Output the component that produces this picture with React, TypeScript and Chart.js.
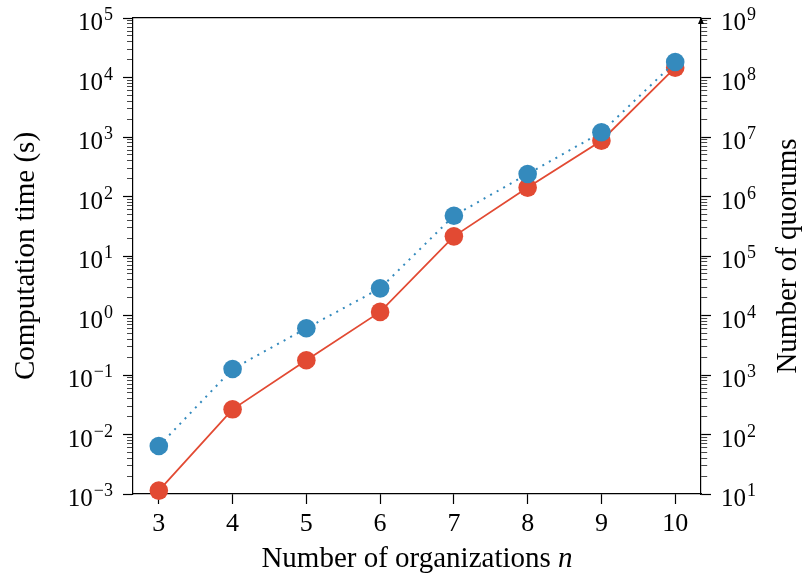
import React, { useEffect, useRef } from "react";
import { Chart, registerables } from "chart.js";

Chart.register(...registerables);

// ---- data ----
const organizations = [3, 4, 5, 6, 7, 8, 9, 10];
const computationTime = [0.00114, 0.0265, 0.177, 1.15, 21.4, 141, 867, 14600];
const quorumCount = [64, 1260, 6100, 28600, 475000, 2390000, 12000000, 182000000];
const xTickValues = [3, 4, 5, 6, 7, 8, 9, 10];
const timeExponents = [-3, -2, -1, 0, 1, 2, 3, 4, 5];
const quorumExponents = [1, 2, 3, 4, 5, 6, 7, 8, 9];

const xTitle = "Number of organizations ";
const xTitleItalic = "n";
const leftTitle = "Computation time (s)";
const rightTitle = "Number of quorums";

const RED = "#E24A33";
const BLUE = "#348ABD";
const FONT = "'Liberation Serif', 'Times New Roman', serif";
const TICK_SIZE = 25;
const EXP_SIZE = 18;
const TITLE_SIZE = 29;

const isMajor = (v: number) => {
  const l = Math.log10(v);
  return Math.abs(l - Math.round(l)) < 1e-9;
};

// tick positions at 1..9 x 10^k between the first and last exponent
const logTicks = (exps: number[]) => {
  const out: { value: number }[] = [];
  for (let i = 0; i < exps.length - 1; i++) {
    for (let m = 1; m <= 9; m++) {
      out.push({ value: Number((m * Math.pow(10, exps[i])).toPrecision(12)) });
    }
  }
  out.push({ value: Math.pow(10, exps[exps.length - 1]) });
  return out;
};

const expText = (e: number) => (e < 0 ? "\u2212" + Math.abs(e) : String(e));

export default function App() {
  const ref = useRef<HTMLCanvasElement | null>(null);

  useEffect(() => {
    if (!ref.current) return;

    const drawPowerLabel = (
      ctx: CanvasRenderingContext2D,
      e: number,
      x: number,
      y: number,
      align: "left" | "right"
    ) => {
      const base = "10";
      const ex = expText(e);
      ctx.font = `${TICK_SIZE}px ${FONT}`;
      const wb = ctx.measureText(base).width;
      ctx.font = `${EXP_SIZE}px ${FONT}`;
      const we = ctx.measureText(ex).width;
      const gap = 1;
      const total = wb + gap + we;
      const x0 = align === "right" ? x - total : x;
      ctx.textAlign = "left";
      ctx.textBaseline = "alphabetic";
      ctx.fillStyle = "#000";
      ctx.font = `${TICK_SIZE}px ${FONT}`;
      ctx.fillText(base, x0, y + 12);
      ctx.font = `${EXP_SIZE}px ${FONT}`;
      ctx.fillText(ex, x0 + wb + gap, y + 2);
    };

    const decorations = {
      id: "decorations",
      afterDraw(chart: any) {
        const { ctx, chartArea, scales } = chart;
        ctx.save();
        // top spine
        const topY = Math.round(chartArea.top - 0.6) + 0.6;
        ctx.strokeStyle = "#000";
        ctx.lineWidth = 1.2;
        ctx.beginPath();
        ctx.moveTo(chartArea.left, topY);
        ctx.lineTo(chartArea.right, topY);
        ctx.stroke();
        // arrowhead at the top of the right axis
        ctx.fillStyle = "#000";
        ctx.beginPath();
        ctx.moveTo(chartArea.right, chartArea.top - 1);
        ctx.lineTo(chartArea.right - 3, chartArea.top + 6);
        ctx.lineTo(chartArea.right + 3, chartArea.top + 6);
        ctx.closePath();
        ctx.fill();
        ctx.restore();

        // y tick labels (10^e) placed with the scales
        ctx.save();
        const yl = scales.y;
        timeExponents.forEach((e) => {
          const py = yl.getPixelForValue(Math.pow(10, e));
          drawPowerLabel(ctx, e, yl.right - 10 - 10, py, "right");
        });
        const yr = scales.y2;
        quorumExponents.forEach((e) => {
          const py = yr.getPixelForValue(Math.pow(10, e));
          drawPowerLabel(ctx, e, yr.left + 10 + 10, py, "left");
        });
        ctx.restore();

        // right title, reading bottom to top
        ctx.save();
        ctx.translate(788.5, (chartArea.top + chartArea.bottom) / 2);
        ctx.rotate(-Math.PI / 2);
        ctx.font = `${TITLE_SIZE}px ${FONT}`;
        ctx.textAlign = "center";
        ctx.textBaseline = "middle";
        ctx.fillStyle = "#000";
        ctx.fillText(rightTitle, 0, 0);
        ctx.restore();

        // x title with italic n
        ctx.save();
        ctx.font = `${TITLE_SIZE}px ${FONT}`;
        const w1 = ctx.measureText(xTitle).width;
        ctx.font = `italic ${TITLE_SIZE}px ${FONT}`;
        const w2 = ctx.measureText(xTitleItalic).width;
        const cx = (chartArea.left + chartArea.right) / 2;
        const startX = cx - (w1 + w2) / 2;
        ctx.textBaseline = "middle";
        ctx.textAlign = "left";
        ctx.fillStyle = "#000";
        ctx.font = `${TITLE_SIZE}px ${FONT}`;
        ctx.fillText(xTitle, startX, 559.5);
        ctx.font = `italic ${TITLE_SIZE}px ${FONT}`;
        ctx.fillText(xTitleItalic, startX + w1, 559.5);
        ctx.restore();
      },
    };

    const minorDashLeft = [0, 4, 6, 100];
    const minorDashRight = [6, 100];

    const fitY = (w: number) => (s: any) => {
      s.width = w;
      s.paddingTop = 0;
      s.paddingBottom = 0;
    };

    const chart = new Chart(ref.current, {
      type: "line",
      data: {
        labels: organizations,
        datasets: [
          {
            label: "Number of quorums",
            data: organizations.map((x, i) => ({ x, y: quorumCount[i] })),
            yAxisID: "y2",
            borderColor: BLUE,
            backgroundColor: BLUE,
            borderWidth: 2,
            borderDash: [2, 5.5],
            pointRadius: 9.3,
            pointBorderWidth: 0,
            pointBackgroundColor: BLUE,
            clip: false as any,
          },
          {
            label: "Computation time",
            data: organizations.map((x, i) => ({ x, y: computationTime[i] })),
            yAxisID: "y",
            borderColor: RED,
            backgroundColor: RED,
            borderWidth: 1.8,
            pointRadius: 9.3,
            pointBorderWidth: 0,
            pointBackgroundColor: RED,
            clip: false as any,
          },
        ],
      },
      options: {
        animation: false,
        responsive: false,
        maintainAspectRatio: false,
        layout: { padding: { top: 18, left: 0, right: 0, bottom: 0 } },
        plugins: {
          legend: { display: false },
          tooltip: { enabled: false },
        },
        scales: {
          x: {
            type: "linear",
            min: 2.65,
            max: 10.35,
            z: 1,
            afterFit: (s: any) => {
              s.height = 84;
              s.paddingLeft = 0;
              s.paddingRight = 0;
            },
            afterBuildTicks: (s: any) => { s.ticks = xTickValues.map((v) => ({ value: v })); },
            border: { display: true, color: "#000", width: 1.2 },
            grid: { drawOnChartArea: false, drawTicks: true, tickLength: 10, tickColor: "#000", tickWidth: 1.2 },
            ticks: {
              autoSkip: false,
              maxRotation: 0,
              padding: 5,
              color: "#000",
              font: { family: FONT, size: TICK_SIZE + 1 },
              callback: (v: any) => String(v),
            },
            title: { display: false },
          },
          y: {
            type: "logarithmic",
            position: "left",
            min: Math.pow(10, timeExponents[0]),
            max: Math.pow(10, timeExponents[timeExponents.length - 1]),
            z: 1,
            afterFit: fitY(133),
            afterBuildTicks: (s: any) => { s.ticks = logTicks(timeExponents); },
            border: { display: true, color: "#000", width: 1.2 },
            grid: {
              drawOnChartArea: false,
              drawTicks: true,
              tickLength: 10,
              tickColor: (c: any) => (c.tick && isMajor(c.tick.value) ? "#000" : "#333"),
              tickWidth: (c: any) => (c.tick && isMajor(c.tick.value) ? 1.2 : 0.9),
              tickBorderDash: (c: any) => (c.tick && isMajor(c.tick.value) ? [] : minorDashLeft),
            } as any,
            ticks: { display: false, autoSkip: false },
            title: {
              display: true,
              text: leftTitle,
              color: "#000",
              font: { family: FONT, size: TITLE_SIZE },
              padding: { top: 8.5, bottom: 0 },
            },
          },
          y2: {
            type: "logarithmic",
            position: "right",
            min: Math.pow(10, quorumExponents[0]),
            max: Math.pow(10, quorumExponents[quorumExponents.length - 1]),
            z: 1,
            afterFit: fitY(105),
            afterBuildTicks: (s: any) => { s.ticks = logTicks(quorumExponents); },
            border: { display: true, color: "#000", width: 1.2 },
            grid: {
              drawOnChartArea: false,
              drawTicks: true,
              tickLength: 10,
              tickColor: (c: any) => (c.tick && isMajor(c.tick.value) ? "#000" : "#333"),
              tickWidth: (c: any) => (c.tick && isMajor(c.tick.value) ? 1.2 : 0.9),
              tickBorderDash: (c: any) => (c.tick && isMajor(c.tick.value) ? [] : minorDashRight),
            } as any,
            ticks: { display: false, autoSkip: false },
            title: { display: false },
          },
        },
      } as any,
      plugins: [decorations],
    });

    return () => chart.destroy();
  }, []);

  return (
    <div style={{ position: "fixed", left: 0, top: 0, width: 806, height: 578, background: "#fff" }}>
      <canvas ref={ref} width={806} height={578} style={{ width: 806, height: 578, display: "block" }} />
    </div>
  );
}
